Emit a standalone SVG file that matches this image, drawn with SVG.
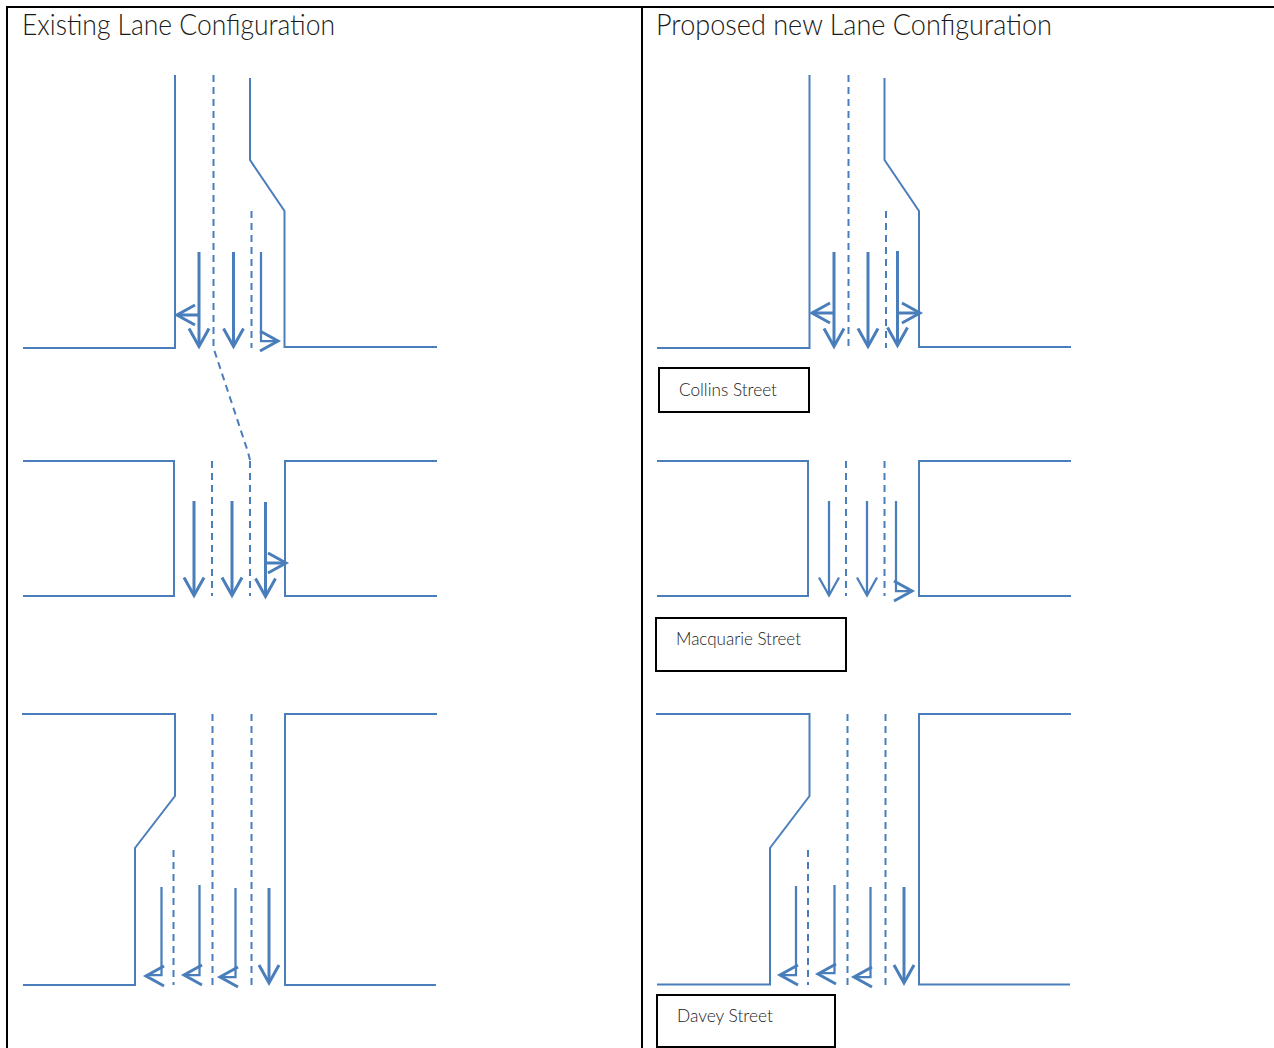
<svg xmlns="http://www.w3.org/2000/svg" width="1274" height="1048" viewBox="0 0 1274 1048">
<style>
.frame{fill:none;stroke:#000;stroke-width:2}
.road{fill:none;stroke:#4a7ebb;stroke-width:2}
.dash{fill:none;stroke:#4a7ebb;stroke-width:2;stroke-dasharray:7 5}
.arrow{fill:none;stroke:#4a7ebb;stroke-width:3}
.thin{stroke-width:2.250}
.box{fill:#fff;stroke:#000;stroke-width:2}
text{font-family:"Lato","Open Sans","Liberation Sans",sans-serif;font-weight:300;fill:#1a1a1a}
.title{font-size:29px}
.label{font-size:18px}
</style>
<defs>
<path id="hd" d="M-10 -18L0 0L10 -18"/>
<path id="hl" d="M18 -10L0 0L18 10"/>
<path id="hr" d="M-18 -10L0 0L-18 10"/>
</defs>
<g id="frame"><path class="frame" d="M7 1048V7H1274M642 7V1048"/></g>
<g id="titles">
<text class="title" x="22" y="35" textLength="313" lengthAdjust="spacingAndGlyphs">Existing Lane Configuration</text>
<text class="title" x="656" y="35" textLength="396" lengthAdjust="spacingAndGlyphs">Proposed new Lane Configuration</text>
</g>
<g id="connectors">
<g id="existing-collins">
<path class="road" d="M175 75V348H23M250 78V160L284.500 211V347H437"/>
<path class="dash" d="M213.500 75V348L248 452L250 460M251.500 211V348"/>
<path class="arrow" d="M199 252V346M233.500 252V346M199 315H177"/>
<path class="arrow thin" d="M261 252V341H278"/>
<use href="#hd" class="arrow" x="199" y="346.500"/><use href="#hd" class="arrow" x="233.500" y="346.500"/>
<use href="#hl" class="arrow" x="177" y="315"/><use href="#hr" class="arrow" x="278" y="341"/>
</g>
<g id="existing-macquarie">
<path class="road" d="M23 461H174V596H23M437 461H285V596H437"/>
<path class="dash" d="M212 461V596M250 461V596"/>
<path class="arrow" d="M194 501V595M232 501V595M265.500 502V595M265.500 563H286"/>
<use href="#hd" class="arrow" x="194" y="595.500"/><use href="#hd" class="arrow" x="232" y="595.500"/><use href="#hd" class="arrow" x="265.500" y="596.500"/>
<use href="#hr" class="arrow" x="286" y="563"/>
</g>
<g id="existing-davey">
<path class="road" d="M22 714H175V796L135 848V985H23M437 714H285V985H436"/>
<path class="dash" d="M212.500 714V985M251.500 714V985M173.500 850V985"/>
<path class="arrow thin" d="M161.500 887V975H146M199.500 885V975H184M235.500 888V977H220"/>
<path class="arrow" d="M269 888V982"/>
<use href="#hl" class="arrow" x="146" y="976"/><use href="#hl" class="arrow" x="184" y="975"/><use href="#hl" class="arrow" x="220" y="977"/>
<use href="#hd" class="arrow" x="269" y="983"/>
</g>
<g id="proposed-collins">
<path class="road" d="M809.500 75V348H657M884.500 78V160L919 211V347H1071"/>
<path class="dash" d="M848.500 75V348M886 211V348"/>
<path class="arrow" d="M834 252V346M868 252V346M897.500 251V345M834 313H812M897.500 313H920"/>
<use href="#hd" class="arrow" x="834" y="346.500"/><use href="#hd" class="arrow" x="868" y="346.500"/><use href="#hd" class="arrow" x="897.500" y="345.500"/>
<use href="#hl" class="arrow" x="812" y="313"/><use href="#hr" class="arrow" x="920" y="313"/>
</g>
<g id="proposed-macquarie">
<path class="road" d="M657 461H808V596H657M1071 461H919V596H1071"/>
<path class="dash" d="M846 461V596M884.500 461V596"/>
<path class="arrow thin" d="M829 501V595M867 501V595M896 501V591H912"/>
<use href="#hd" class="arrow thin" x="829" y="595.500"/><use href="#hd" class="arrow thin" x="867" y="595.500"/>
<use href="#hr" class="arrow" x="912" y="591"/>
</g>
<g id="proposed-davey">
<path class="road" d="M656 714H809.500V796L770 848V984.500H657M1071 714H919V984.500H1070"/>
<path class="dash" d="M847.500 714V985M885.500 714V985M808 850V985"/>
<path class="arrow thin" d="M796 886V975H780M834.500 885V973H818M870.500 887V977H854"/>
<path class="arrow" d="M904 887V982"/>
<use href="#hl" class="arrow" x="780" y="975"/><use href="#hl" class="arrow" x="818" y="974"/><use href="#hl" class="arrow" x="854" y="977"/>
<use href="#hd" class="arrow" x="904" y="983"/>
</g>
</g>
<g id="collins-street"><rect class="box" x="659" y="368" width="150" height="44"/><text class="label" x="679" y="396" textLength="98" lengthAdjust="spacingAndGlyphs">Collins Street</text></g>
<g id="macquarie-street"><rect class="box" x="656" y="618" width="190" height="53"/><text class="label" x="676" y="645" textLength="125" lengthAdjust="spacingAndGlyphs">Macquarie Street</text></g>
<g id="davey-street"><rect class="box" x="657" y="995" width="178" height="52"/><text class="label" x="677" y="1022" textLength="96" lengthAdjust="spacingAndGlyphs">Davey Street</text></g>
</svg>
